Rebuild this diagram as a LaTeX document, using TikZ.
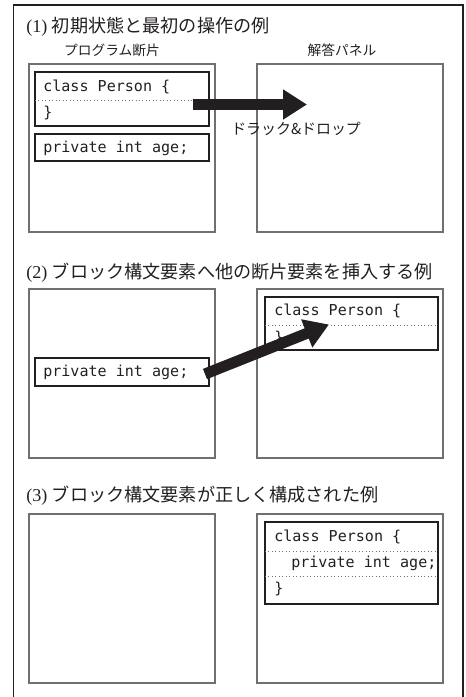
\documentclass[tikz,border=0pt]{standalone}
\usepackage{fontspec}
\setmainfont{Liberation Serif}
\newfontfamily\jp{Noto Sans CJK JP}
\newfontfamily\code{DejaVu Sans Mono}
\usetikzlibrary{arrows.meta,fit}
\definecolor{panelgray}{HTML}{707070}
\definecolor{ink}{HTML}{231F20}
\tikzset{
  panel/.style={draw=panelgray, line width=1.1pt, inner sep=0pt, fit={#1}},
  blockbox/.style={draw=ink, line width=1.1pt, inner sep=0pt, fit={#1}},
  sep/.style={draw=panelgray, line width=0.6pt, dotted},
  codetxt/.style={font=\code\fontsize{11.3pt}{13pt}\selectfont, text=ink, anchor=west, inner sep=0pt},
  titletxt/.style={font=\fontsize{13.6pt}{16pt}\selectfont, text=ink, anchor=west, inner sep=0pt},
  headtxt/.style={font=\jp\fontsize{10.3pt}{12pt}\selectfont, text=ink, inner sep=0pt},
  bigarrow/.style={draw=ink, line width=8.25pt, -{Triangle[length=18pt,width=21.5pt]}},
}
\begin{document}
\begin{tikzpicture}[x=0.75pt,y=-0.75pt]
\useasboundingbox (0,0) rectangle (465,697);
\begin{scope}
\clip (0,0) rectangle (465,697);
\draw[ink, line width=0.9pt] (13.5,720) -- (13.5,5) -- (463,5) -- (463,720);
\end{scope}

% ---------- (1)
\node[titletxt] (t1) at (26,27) {(1) {\jp 初期状態と最初の操作の例}};
\node[headtxt] (h1) at (112,50) {プログラム断片};
\node[headtxt] (h2) at (342,50) {解答パネル};
\node[panel={(29,64) (215,232)}] (L1) {};
\node[panel={(257,64) (443,232)}] (R1) {};
\node[blockbox={(35,72) (209,126)}] (B1) {};
\draw[sep] (35,100) -- (209,100);
\node[codetxt] (c1) at (43,87) {class Person \{};
\node[codetxt] (c2) at (43,113) {\}};
\node[blockbox={(35,134) (209,161)}] (B2) {};
\node[codetxt] (c3) at (43,148) {private int age;};
\coordinate (a1s) at (193,104.5);
\coordinate (a1e) at (307,104.5);
\draw[bigarrow] (a1s) -- (a1e);
\node[headtxt, anchor=west, font=\jp\fontsize{11.2pt}{13pt}\selectfont] (dd) at (231,129) {ドラック\&ドロップ};

% ---------- (2)
\node[titletxt] (t2) at (26,273) {(2) {\jp ブロック構文要素へ他の断片要素を挿入する例}};
\node[panel={(29,289) (215,458)}] (L2) {};
\node[panel={(257,289) (443,458)}] (R2) {};
\node[blockbox={(265,297) (438,350)}] (B3) {};
\draw[sep] (265,325) -- (438,325);
\node[codetxt] (c4) at (274,311) {class Person \{};
\node[codetxt] (c5) at (274,338) {\}};
\node[blockbox={(35,358) (209,386)}] (B4) {};
\node[codetxt] (c6) at (43,372) {private int age;};
\coordinate (a2s) at (205,374);
\coordinate (a2e) at (329,324.5);
\draw[bigarrow] (a2s) -- (a2e);

% ---------- (3)
\node[titletxt] (t3) at (26,496) {(3) {\jp ブロック構文要素が正しく構成された例}};
\node[panel={(29,514) (215,683)}] (L3) {};
\node[panel={(257,514) (443,683)}] (R3) {};
\node[blockbox={(265,522) (438,604)}] (B5) {};
\draw[sep] (265,551) -- (438,551);
\draw[sep] (265,576) -- (438,576);
\node[codetxt] (c7) at (274,537) {class Person \{};
\node[codetxt] (c8) at (291,563) {private int age;};
\node[codetxt] (c9) at (274,589) {\}};
\end{tikzpicture}
\end{document}
